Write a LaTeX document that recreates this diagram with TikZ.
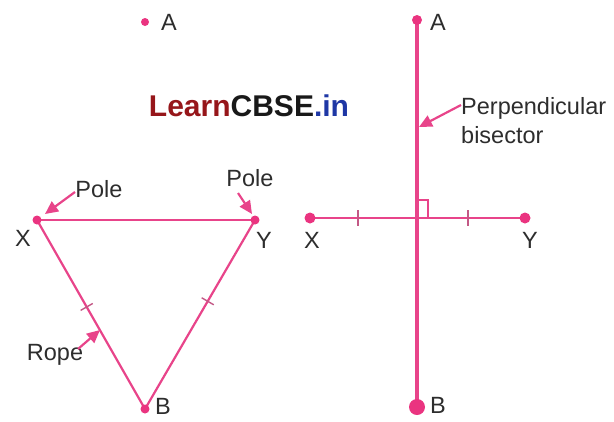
\documentclass[tikz,border=0pt]{standalone}
\usepackage{fontspec}
\setmainfont{Liberation Sans}
\usetikzlibrary{arrows.meta,calc}
\definecolor{pinkc}{RGB}{232,68,138}
\definecolor{dotc}{RGB}{234,52,128}
\definecolor{txt}{RGB}{45,45,45}
\definecolor{lred}{RGB}{150,22,26}
\definecolor{lblk}{RGB}{25,25,25}
\definecolor{lblue}{RGB}{30,55,165}
\tikzset{
  lbl/.style={text=txt,font=\fontsize{23.5}{26}\selectfont,inner sep=0pt},
  dot/.style={circle,fill=dotc,draw=none,inner sep=0pt,minimum size=#1},
  thinline/.style={draw=pinkc,line width=2.2pt},
  thickline/.style={draw=pinkc,line width=3.6pt},
  tickmark/.style={draw=pinkc!65!gray,line width=1.4pt},
  pointer/.style={draw=pinkc,line width=2.2pt,-{Triangle[length=13pt,width=12pt]}}
}
\begin{document}
\begin{tikzpicture}[x=1pt,y=-1pt]
\useasboundingbox (0,0) rectangle (614,421);
% ---------- left panel ----------
\coordinate (AL) at (145,22);
\coordinate (XL) at (37,220);
\coordinate (YL) at (255,220);
\coordinate (BL) at (145,409);
\draw[thinline,line width=2.6pt] (XL) -- (YL);
\draw[thinline] (XL) -- (BL) -- (YL);
\coordinate (T1) at ($(XL)!0.46!(BL)$);
\coordinate (T2) at ($(YL)!0.43!(BL)$);
\draw[tickmark] ($(T1)!7pt!90:(BL)$) -- ($(T1)!7pt!-90:(BL)$);
\draw[tickmark] ($(T2)!7pt!90:(BL)$) -- ($(T2)!7pt!-90:(BL)$);
\node[dot=8pt] (dAL) at (AL) {};
\node[dot=9pt] (dXL) at (XL) {};
\node[dot=9pt] (dYL) at (YL) {};
\node[dot=9pt] (dBL) at (BL) {};
\node[lbl] (lAL) at (169,22) {A};
\node[lbl] (lXL) at (23,238) {X};
\node[lbl] (lYL) at (264,240) {Y};
\node[lbl] (lBL) at (163,406) {B};
\node[lbl] (pole1) at (99,189) {Pole};
\node[lbl] (pole2) at (250,178) {Pole};
\node[lbl] (rope) at (55,355) {Rope};
\coordinate (p1t) at (75,192);
\coordinate (p1h) at (45,214);
\coordinate (p2t) at (238,193);
\coordinate (p2h) at (252,214);
\coordinate (rt) at (78,349);
\coordinate (rh) at (100,330);
\draw[pointer] (p1t) -- (p1h);
\draw[pointer] (p2t) -- (p2h);
\draw[pointer] (rt) -- (rh);
% ---------- logo ----------
\node[inner sep=0pt,font=\fontsize{30}{32}\selectfont\bfseries] (logo) at (249,106)
  {\textcolor{lred}{Learn}\textcolor{lblk}{CBSE}\textcolor{lblue}{.in}};
% ---------- right panel ----------
\coordinate (AR) at (417,20);
\coordinate (BR) at (417,407);
\coordinate (XR) at (310,218);
\coordinate (YR) at (525,218);
\coordinate (OR) at (417,218);
\draw[thickline] (AR) -- (BR);
\draw[thinline,line width=2.6pt] (XR) -- (YR);
\draw[tickmark] (358,210) -- (358,226);
\draw[tickmark] (468,210) -- (468,226);
\draw[draw=pinkc,line width=1.3pt] ($(OR)+(1,-18)$) -- ($(OR)+(11,-18)$) -- ($(OR)+(11,0)$);
\node[dot=10pt] (dAR) at (AR) {};
\node[dot=16pt] (dBR) at (BR) {};
\node[dot=11pt] (dXR) at (XR) {};
\node[dot=11pt] (dYR) at (YR) {};
\node[lbl] (lAR) at (438,22) {A};
\node[lbl] (lBR) at (438,405) {B};
\node[lbl] (lXR) at (312,240) {X};
\node[lbl] (lYR) at (530,240) {Y};
\node[lbl,anchor=west] (perp) at (461,108) {Perpendicular};
\node[lbl,anchor=west] (bis) at (461,135) {bisector};
\coordinate (pbt) at (461,105);
\coordinate (pbh) at (419,127);
\draw[pointer] (pbt) -- (pbh);
\end{tikzpicture}
\end{document}
